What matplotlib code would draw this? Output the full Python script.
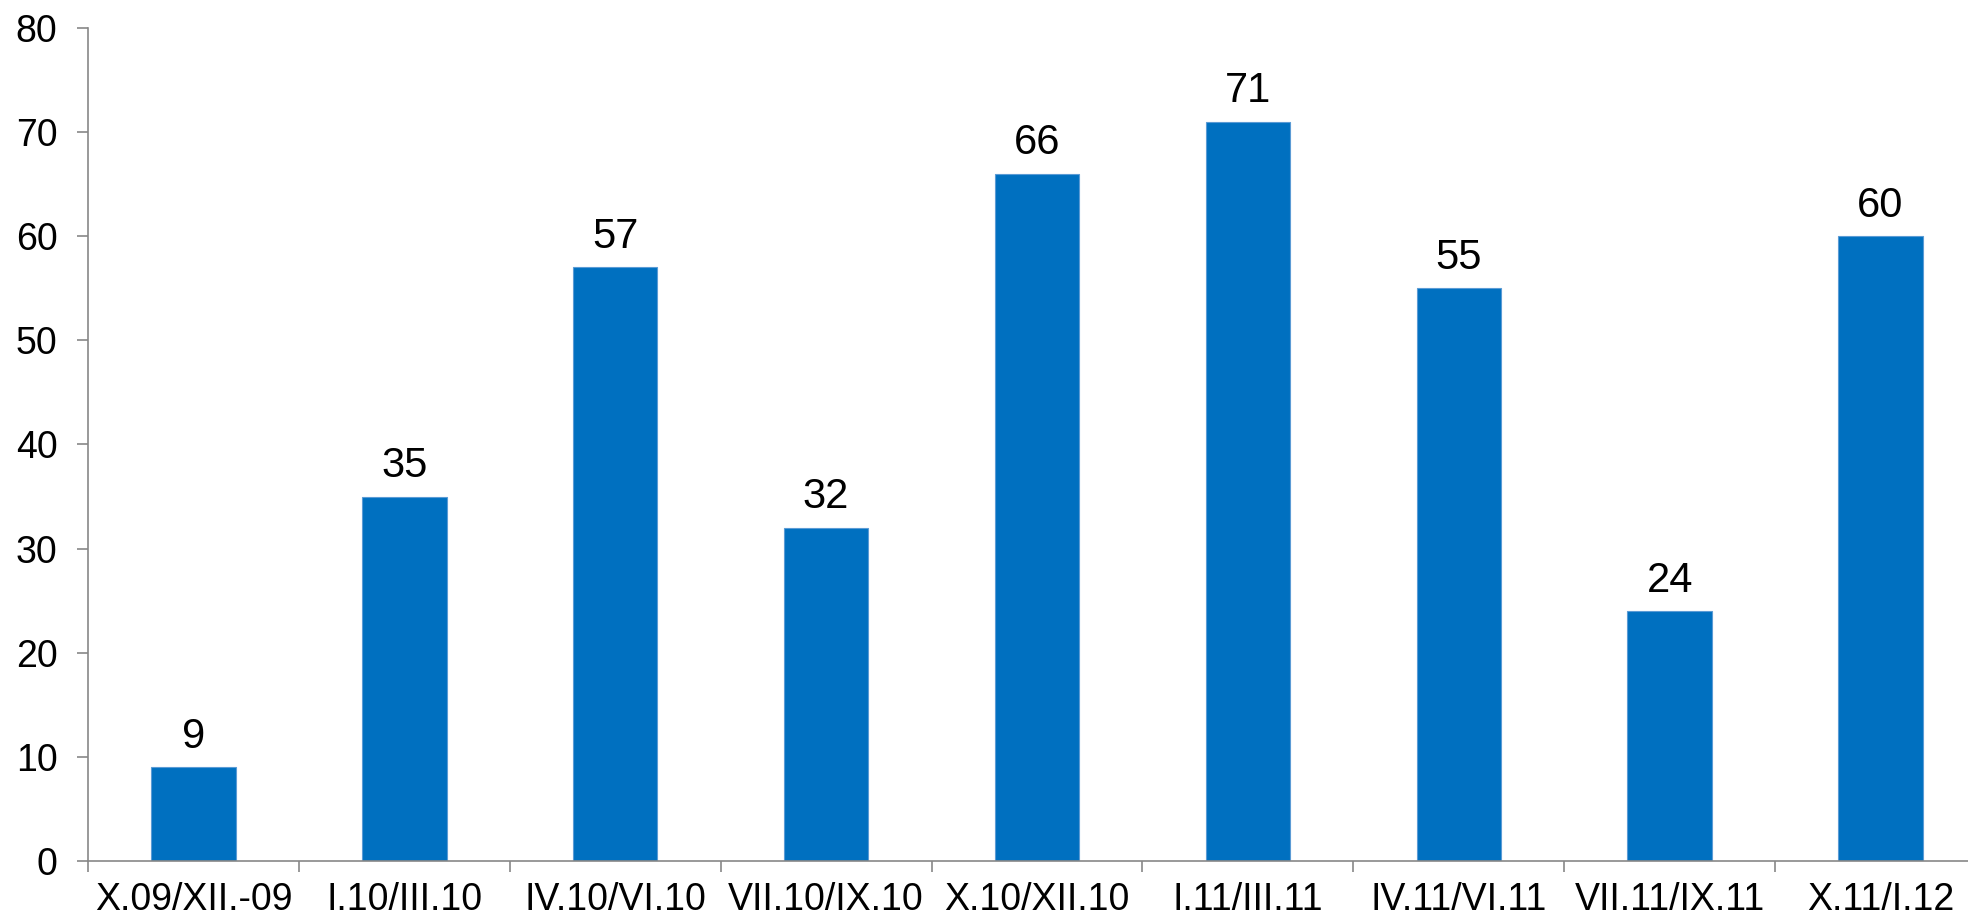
import matplotlib
matplotlib.use("Agg")
import matplotlib.pyplot as plt
import numpy as np

# Kvartaler og verdier
categories = ["X.09/XII.-09", "I.10/III.10", "IV.10/VI.10", "VII.10/IX.10", "X.10/XII.10",
              "I.11/III.11", "IV.11/VI.11", "VII.11/IX.11", "X.11/I.12"]
values = [9, 35, 57, 32, 66, 71, 55, 24, 60]
y_ticks = [0, 10, 20, 30, 40, 50, 60, 70, 80]

plt.rcParams['font.family'] = ['Liberation Sans', 'DejaVu Sans']

W, H = 1968, 922
fig = plt.figure(figsize=(W / 100, H / 100), dpi=100)
# aksen går litt utenfor høyre kant, som i originalen
left, right = 88, 1986
bottom, top = 861, 28
ax = fig.add_axes([left / W, 1 - bottom / H, (right - left) / W, (bottom - top) / H])

x = np.arange(len(categories))
bars = ax.bar(x, values, width=0.4, color="#0070C0", edgecolor="#5B9BD5", linewidth=0.8, zorder=2)

for xi, v in zip(x, values):
    ax.annotate(str(v), (xi, v), xytext=(0, 14), textcoords="offset points",
                ha="center", va="baseline", fontsize=30, color="black")

ax.set_xlim(-0.5, len(categories) - 0.5)
ax.set_ylim(0, 80)
ax.set_yticks(y_ticks)
ax.set_yticklabels([str(t) for t in y_ticks])

# kategorier midt mellom tick-strekene
ax.set_xticks(np.arange(len(categories) + 1) - 0.5)
ax.set_xticklabels([])
ax.set_xticks(x, minor=True)
ax.set_xticklabels(categories, minor=True)
ax.tick_params(axis="x", which="minor", length=0, pad=15, labelsize=27)
ax.tick_params(axis="x", which="major", length=8, width=1.2, color="#878787", direction="out")
ax.tick_params(axis="y", length=8, width=1.2, color="#878787", pad=14, labelsize=27)

for s in ["top", "right"]:
    ax.spines[s].set_visible(False)
for s in ["left", "bottom"]:
    ax.spines[s].set_color("#878787")
    ax.spines[s].set_linewidth(1.2)

fig.savefig("out.png", dpi=100)
